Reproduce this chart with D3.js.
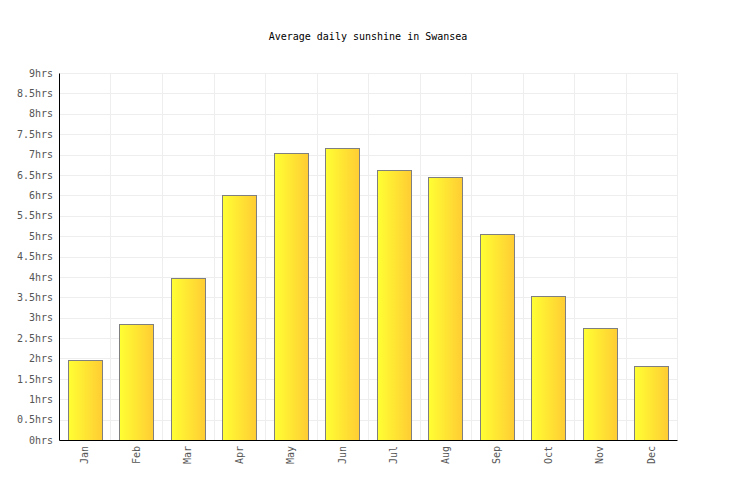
<!DOCTYPE html>
<html lang="en">
<head>
  <meta charset="UTF-8">
  <title>Average daily sunshine in Swansea</title>
  <style>
    body { margin: 0; background: #fff; }
    text { font-family: "DejaVu Sans Mono", monospace; font-size: 10px; }
    .grid line { stroke: #eeeeee; stroke-width: 1; }
    .tick-label { fill: #555; }
    rect.bar { stroke: #7f7f7f; stroke-width: 1; }
  </style>
</head>
<body>
  <div class="canvas"></div>
  <script src="https://d3js.org/d3.v7.min.js"></script>
  <script>
    const months = ['Jan', 'Feb', 'Mar', 'Apr', 'May', 'Jun', 'Jul', 'Aug', 'Sep', 'Oct', 'Nov', 'Dec'];
    const sunshine = [1.95, 2.84, 3.97, 6.0, 7.05, 7.17, 6.63, 6.44, 5.05, 3.52, 2.74, 1.81];
    const yTicks = [0, 0.5, 1, 1.5, 2, 2.5, 3, 3.5, 4, 4.5, 5, 5.5, 6, 6.5, 7, 7.5, 8, 8.5, 9];

    const width = 736;
    const height = 500;
    const margin = {top: 73, right: 59, bottom: 60, left: 59};
    const graphWidth = width - margin.left - margin.right;
    const graphHeight = height - margin.top - margin.bottom;

    const svg = d3.select('.canvas')
      .append('svg')
      .attr('width', width)
      .attr('height', height);

    const grad = svg.append('defs').append('linearGradient')
      .attr('id', 'barFill')
      .attr('x1', '0%').attr('x2', '100%')
      .attr('y1', '0%').attr('y2', '0%');
    grad.append('stop').attr('offset', '0%').attr('stop-color', '#ffff33');
    grad.append('stop').attr('offset', '100%').attr('stop-color', '#ffcc33');

    svg.append('text')
      .attr('x', width / 2)
      .attr('y', 40)
      .attr('text-anchor', 'middle')
      .attr('fill', '#000')
      .text('Average daily sunshine in Swansea');

    const graph = svg.append('g')
      .attr('transform', `translate(${margin.left}, ${margin.top})`);

    const x = d3.scaleBand()
      .domain(months)
      .range([0, graphWidth])
      .paddingInner(0.34)
      .paddingOuter(0.17);

    const y = d3.scaleLinear()
      .domain([0, 9])
      .range([graphHeight, 0]);

    // grid
    const grid = graph.append('g').attr('class', 'grid');
    grid.selectAll('line.h')
      .data(yTicks)
      .enter().append('line')
      .attr('class', 'h')
      .attr('x1', 0).attr('x2', graphWidth)
      .attr('y1', d => Math.round(y(d)) + 0.5)
      .attr('y2', d => Math.round(y(d)) + 0.5);

    const step = x.step();
    const bounds = d3.range(months.length + 1).map(i => i);
    grid.selectAll('line.v')
      .data(bounds)
      .enter().append('line')
      .attr('class', 'v')
      .attr('x1', d => Math.round(x(months[0]) - x.paddingOuter() * step + d * step) + 0.5)
      .attr('x2', d => Math.round(x(months[0]) - x.paddingOuter() * step + d * step) + 0.5)
      .attr('y1', 0).attr('y2', graphHeight);

    // bars
    graph.selectAll('rect.bar')
      .data(sunshine)
      .enter().append('rect')
      .attr('class', 'bar')
      .attr('fill', 'url(#barFill)')
      .attr('x', (d, i) => Math.round(x(months[i])) + 0.5)
      .attr('y', d => Math.round(y(d)) + 0.5)
      .attr('width', Math.round(x.bandwidth()))
      .attr('height', d => Math.round(graphHeight - y(d)));

    // axes
    const yAxis = d3.axisLeft(y)
      .tickValues(yTicks)
      .tickSize(0)
      .tickPadding(6)
      .tickFormat(d => `${d}hrs`);
    const gY = graph.append('g').call(yAxis);
    gY.select('.domain').attr('stroke', '#000');
    gY.selectAll('text').attr('class', 'tick-label').attr('fill', '#555');

    const xAxis = d3.axisBottom(x).tickSize(0).tickPadding(0);
    const gX = graph.append('g')
      .attr('transform', `translate(0, ${graphHeight})`)
      .call(xAxis);
    gX.select('.domain').attr('stroke', '#000');
    gX.selectAll('text')
      .attr('fill', '#555')
      .attr('transform', 'rotate(-90)')
      .attr('text-anchor', 'end')
      .attr('x', -6)
      .attr('y', 0)
      .attr('dy', '0.35em');
  </script>
</body>
</html>
